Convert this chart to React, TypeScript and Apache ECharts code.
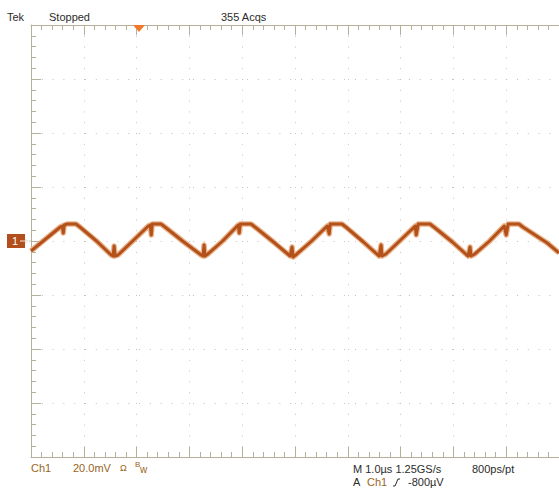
import React, { useEffect, useRef } from "react";
import * as echarts from "echarts";

// Time axis (µs) relative to trigger, 1.0 µs/div
const timeDivisions = [-2, 8];
// Voltage axis (mV), 20.0 mV/div
const voltDivisions = [-80, 80];

// Trace samples (time µs, value mV)
const traceTimes = [
  -2.0, -1.444, -1.407, -1.389, -1.37, -1.315, -1.148, -1.074, -0.759, -0.481,
  -0.444, -0.426, -0.407, -0.352, -0.074, 0.222, 0.259, 0.278, 0.296, 0.463,
  0.537, 0.87, 1.222, 1.259, 1.278, 1.296, 1.352, 1.63, 1.907, 1.926,
  1.944, 1.963, 2.167, 2.241, 2.593, 2.907, 2.944, 2.963, 3.037, 3.315,
  3.611, 3.648, 3.667, 3.889, 3.963, 4.296, 4.593, 4.63, 4.648, 4.722,
  4.981, 5.278, 5.296, 5.333, 5.556, 5.63, 5.981, 6.278, 6.315, 6.333,
  6.407, 6.685, 6.963, 7.0, 7.037, 7.241, 7.315, 7.778, 8.0,
];
const traceValues = [
  -3.7, 5.19, 5.56, 2.96, 5.93, 6.3, 6.3, 5.19, 0, -5.19,
  -5.56, -1.85, -5.56, -5.19, 0, 5.56, 5.93, 2.22, 6.3, 6.3,
  5.19, 0, -5.19, -5.56, -1.48, -5.56, -4.81, 0, 5.56, 5.93,
  2.96, 6.3, 6.3, 5.19, -0.37, -5.56, -2.22, -5.93, -4.81, 0,
  5.56, 2.59, 6.3, 6.3, 5.19, -0.37, -5.56, -1.48, -5.56, -4.81,
  0, 5.56, 2.22, 6.3, 6.3, 5.19, -0.37, -5.56, -2.22, -5.56,
  -4.81, 0, 5.56, 2.22, 6.3, 6.3, 5.19, -0.74, -4.4,
];

const headerTexts = ["Tek", "Stopped", "355 Acqs"];
const channelTexts = ["Ch1", "20.0mV", "Ω", "B", "w"];
const timebaseTexts = ["M 1.0µs 1.25GS/s", "800ps/pt"];
const triggerTexts = ["A", "Ch1", "-800µV"];

const FONT = '"Liberation Sans", Arial, sans-serif';
const FRAME = "#b4b09a";
const DOTS = "#c2c2c2";
const DARK = "#2b2b2b";
const BROWN = "#9a6422";

export default function App() {
  const ref = useRef<HTMLDivElement>(null);

  useEffect(() => {
    document.body.style.margin = "0";
    if (!ref.current) return;
    const chart = echarts.init(ref.current, undefined, { renderer: "svg" });
    const data = traceTimes.map((t, i) => [t, traceValues[i]]);

    const axisCommon = {
      axisLine: { show: true, onZero: false, lineStyle: { color: FRAME, width: 1 } },
      axisTick: { show: true, inside: true, length: 10, lineStyle: { color: FRAME, width: 1 } },
      minorTick: { show: true, splitNumber: 5, length: 5, lineStyle: { color: FRAME, width: 1 } },
      axisLabel: { show: false },
    };

    const txt = (text: string, x: number, y: number, fill: string, size = 11) => ({
      type: "text",
      x,
      y,
      silent: true,
      style: { text, fill, fontSize: size, fontFamily: FONT, align: "left", verticalAlign: "middle" },
    });

    chart.setOption({
      animation: false,
      backgroundColor: "#ffffff",
      grid: { left: 31, top: 25, width: 540, height: 432, containLabel: false },
      xAxis: [
        {
          type: "value",
          min: timeDivisions[0],
          max: timeDivisions[1],
          interval: 1,
          position: "bottom",
          ...axisCommon,
          splitLine: { show: true, lineStyle: { color: DOTS, width: 1, type: [1, 9.8] } },
        },
        {
          type: "value",
          min: timeDivisions[0],
          max: timeDivisions[1],
          interval: 1,
          position: "top",
          ...axisCommon,
          splitLine: { show: false },
        },
      ],
      yAxis: [
        {
          type: "value",
          min: voltDivisions[0],
          max: voltDivisions[1],
          interval: 20,
          position: "left",
          ...axisCommon,
          splitLine: { show: true, lineStyle: { color: DOTS, width: 1, type: [1, 9.8] } },
        },
      ],
      series: [
        {
          type: "line",
          data,
          showSymbol: false,
          symbol: "none",
          clip: true,
          lineStyle: { color: "#e8b48c", width: 5.5, join: "round" },
          silent: true,
          z: 3,
        },
        {
          type: "line",
          data,
          showSymbol: false,
          symbol: "none",
          clip: true,
          lineStyle: { color: "#b4501a", width: 3, join: "round" },
          silent: true,
          z: 4,
        },
      ],
      graphic: [
        txt(headerTexts[0], 7, 17, DARK),
        txt(headerTexts[1], 49, 17, DARK),
        txt(headerTexts[2], 221, 17, DARK),
        {
          type: "polygon",
          shape: { points: [[133, 25], [145, 25], [139, 32]] },
          style: { fill: "#f07a2a" },
          z: 10,
        },
        {
          type: "rect",
          shape: { x: 7, y: 234, width: 18, height: 14 },
          style: { fill: "#b24f1c" },
          z: 10,
        },
        { ...txt("1", 12, 241, "#ffffff", 11), z: 11 },
        {
          type: "line",
          shape: { x1: 20, y1: 241, x2: 27, y2: 241 },
          style: { stroke: "#f3e6da", lineWidth: 1 },
          z: 11,
        },
        {
          type: "polygon",
          shape: { points: [[25, 238.5], [29, 241], [25, 243.5]] },
          style: { fill: "#f3e6da" },
          z: 11,
        },
        {
          type: "line",
          shape: { x1: 29, y1: 241, x2: 31, y2: 241 },
          style: { stroke: "#c8c8c8", lineWidth: 1 },
          z: 11,
        },
        txt(channelTexts[0], 31, 468, BROWN),
        txt(channelTexts[1], 73, 468, BROWN),
        txt(channelTexts[2], 120, 468, BROWN, 9),
        txt(channelTexts[3], 135, 464, BROWN, 8),
        txt(channelTexts[4], 140, 469, BROWN, 10),
        txt(timebaseTexts[0], 353, 469, DARK),
        txt(timebaseTexts[1], 472, 469, DARK),
        txt(triggerTexts[0], 353, 482, DARK),
        txt(triggerTexts[1], 367, 482, BROWN),
        {
          type: "polyline",
          shape: { points: [[393, 486], [395, 486], [398, 479], [400, 479]] },
          style: { stroke: DARK, lineWidth: 1, fill: "none" },
        },
        txt(triggerTexts[2], 408, 482, DARK),
      ],
    });

    return () => chart.dispose();
  }, []);

  return <div ref={ref} style={{ width: 559, height: 493 }} />;
}
